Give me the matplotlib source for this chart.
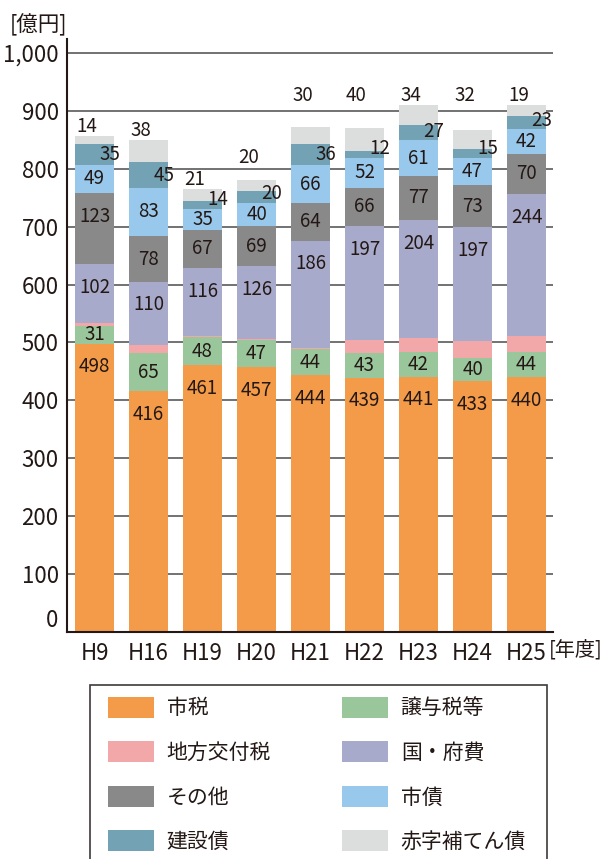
import matplotlib
matplotlib.use("Agg")
import matplotlib.pyplot as plt
from matplotlib.patches import Rectangle, Patch
import numpy as np

# 歳入の推移 [億円]
years = ["H9", "H16", "H19", "H20", "H21", "H22", "H23", "H24", "H25"]
shizei = [498, 416, 461, 457, 444, 439, 441, 433, 440]      # 市税
joyozei = [31, 65, 48, 47, 44, 43, 42, 40, 44]              # 譲与税等
kofuzei = [4, 14, 3, 2, 2, 22, 24, 29, 28]                  # 地方交付税
kokufu = [102, 110, 116, 126, 186, 197, 204, 197, 244]      # 国・府費
sonota = [123, 78, 67, 69, 64, 66, 77, 73, 70]              # その他
shisai = [49, 83, 35, 40, 66, 52, 61, 47, 42]               # 市債
kensetsu = [35, 45, 14, 20, 36, 12, 27, 15, 23]             # 建設債
akaji = [14, 38, 21, 20, 30, 40, 34, 32, 19]                # 赤字補てん債

names = ["市税", "譲与税等", "地方交付税", "国・府費", "その他", "市債", "建設債", "赤字補てん債"]
series = [shizei, joyozei, kofuzei, kokufu, sonota, shisai, kensetsu, akaji]
colors = ["#F39B48", "#9AC69C", "#F2A8A9", "#A8AACB", "#898989", "#98C9EC", "#72A2B3", "#DCDDDD"]

TXT = "#231815"
plt.rcParams['font.family'] = ['Noto Sans CJK JP', 'DejaVu Sans']

fig = plt.figure(figsize=(6.04, 8.59), dpi=100)
ax = fig.add_axes([67 / 604, 1 - 632 / 859, 486 / 604, 593 / 859])

x = np.arange(len(years))
width = 0.72
bottom = np.zeros(len(years))
for i, (vals, col) in enumerate(zip(series, colors)):
    vals = np.array(vals, dtype=float)
    ax.bar(x, vals, width, bottom=bottom, color=col, linewidth=0, zorder=2)

    for j in range(len(years)):
        v = vals[j]
        lo = bottom[j]
        top = lo + v
        if names[i] in ("地方交付税", "赤字補てん債"):
            continue
        if names[i] == "建設債":
            ax.text(x[j] + 0.28, max(lo + v / 2, lo + 16), f"{int(v)}",
                    ha="center", va="center", fontsize=13.5, color=TXT, zorder=4)
        else:
            ax.text(x[j], max(lo + v / 2, top - 40), f"{int(v)}",
                    ha="center", va="center", fontsize=13.5, color=TXT, zorder=4)
    bottom += vals

# 赤字補てん債 labels sit above the bar tops; later years share one row
totals = bottom
late_row = totals[4:].max() + 17
nudge = {3: 21}
for j in range(len(years)):
    y = totals[j] + 17 + nudge.get(j, 0) if j < 4 else late_row
    ax.text(x[j] - 0.15, y, f"{akaji[j]}", ha="center", va="center",
            fontsize=13.5, color=TXT, zorder=4)

ax.set_xlim(-0.51, len(years) - 0.51)
ax.set_ylim(0, 1024)
ax.set_yticks(range(0, 1001, 100))
ax.set_yticklabels([f"{v:,}" for v in range(0, 1001, 100)])
ax.set_xticks(x)
ax.set_xticklabels(years)
ax.tick_params(axis="both", length=0, labelsize=16, colors=TXT)
ax.tick_params(axis="y", pad=6)
ax.tick_params(axis="x", pad=7)
ax.get_yticklabels()[0].set_verticalalignment("bottom")  # 0 sits just above the axis line

ax.yaxis.grid(True, color="#5a5a5a", linewidth=1.2, zorder=0)
ax.set_axisbelow(True)
for s in ["top", "right"]:
    ax.spines[s].set_visible(False)
for s in ["left", "bottom"]:
    ax.spines[s].set_color(TXT)
    ax.spines[s].set_linewidth(1.5)
    ax.spines[s].set_zorder(5)

fig.text(10 / 604, 1 - 25 / 859, "[億円]", ha="left", va="center", fontsize=15.5, color=TXT)
fig.text(603 / 604, 1 - 650 / 859, "[年度]", ha="right", va="center", fontsize=14.5, color=TXT)

# legend: two columns, frame drawn separately (its bottom edge runs off the page)
order = [0, 2, 4, 6, 1, 3, 5, 7]
handles = [Patch(facecolor=colors[k], edgecolor="none") for k in order]
labels = [names[k] for k in order]
fig.legend(handles, labels, ncol=2, loc="upper left",
           bbox_to_anchor=(108 / 604, 1 - 697 / 859), frameon=False,
           borderpad=0, borderaxespad=0, fontsize=15,
           handlelength=2.2, handleheight=1.15, handletextpad=0.62,
           columnspacing=3.4, labelspacing=1.06, labelcolor=TXT)
fig.patches.append(Rectangle((90 / 604, 1 - 875 / 859), 457 / 604, 190 / 859,
                             transform=fig.transFigure, fill=False,
                             edgecolor="#3e3a39", linewidth=1.2))

fig.savefig("out.png", dpi=100)
